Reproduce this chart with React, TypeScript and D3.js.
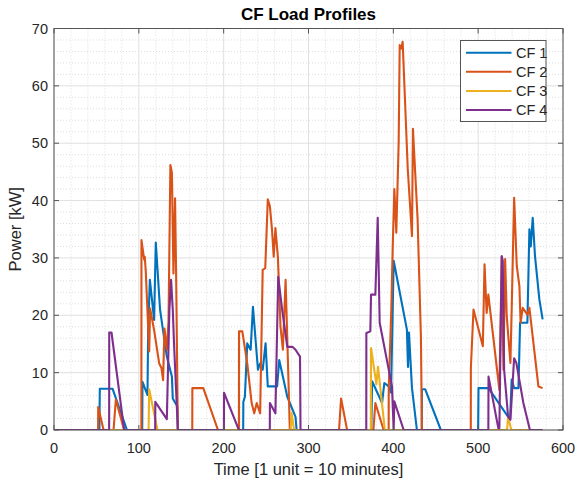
import React from "react";
import * as d3 from "d3";

// Breakpoints of each load profile: [time step, power kW]
const cf1: [number, number][] = [
  [1, 0], [53.5, 0], [54, 7.2], [69, 7.2], [86, 0],
  [104, 0], [104.3, 8.4], [110.2, 6.1], [111, 17.7], [113, 26.2], [118, 19.2], [120, 32.7],
  [125, 21], [133, 12.8], [139, 9.3], [140, 5.5], [145.5, 4.1], [146, 0],
  [223, 0], [223.2, 4.9], [225, 5.8], [227.8, 15.1], [231.8, 14], [234.5, 21.5], [240.4, 10.5],
  [243, 11.6], [246, 10.5], [249.4, 15.1], [252, 7.6], [263, 7.6], [265.5, 12.2], [275, 5.8],
  [284.7, 2.3], [286, 0],
  [374, 0], [375, 8.5], [386.7, 4.7], [389.4, 8.2], [394.5, 7.6], [397.3, 6.5], [400.4, 29.5],
  [416, 17.5], [417.3, 11], [418.4, 17], [422, 7.3], [427.8, 0],
  [433.5, 0], [433.7, 7.1], [437.6, 7.1], [456, 0],
  [500, 0], [500.4, 7.3], [512.2, 7.3], [537.6, 1.8], [539.5, 8.8], [542.4, 7.3], [547.5, 7.3],
  [549.4, 18.7], [558, 18.7], [560.4, 35], [562, 32], [564.3, 37], [567, 30.3], [572.1, 22.8],
  [576, 19.3],
];

const cf2: [number, number][] = [
  [1, 0], [52, 0], [52.1, 4], [58.4, 0], [70.2, 0], [72.9, 5.3], [82.7, 0],
  [103, 0], [103.1, 33.1], [106.3, 29.7], [107, 30.2], [108.2, 27.6], [112.2, 13.7], [113.3, 21.2],
  [118, 17.4], [124, 11.6], [126.7, 10.8], [128.6, 8.7], [130.2, 17.7], [133, 14], [135, 19],
  [137.2, 46.2], [139, 44.8], [140.8, 27.3], [142.7, 40.4], [144, 26.7], [146, 0],
  [163, 0], [163.1, 7.3], [176, 7.3], [193.3, 0],
  [218, 0], [218.1, 17.2], [222, 17.2], [227.8, 11.6], [233, 4.7], [236, 2.9], [239, 4.7],
  [243, 2.9], [246, 27.9], [249, 28.2], [252, 40.2], [254.5, 39], [257, 34.9], [259, 30.2],
  [261, 35.2], [263.9, 30.2], [267, 18], [269.8, 14], [273, 26.2], [275.7, 12.2], [278, 0],
  [336, 0], [338.4, 5.5], [345.5, 0],
  [376.5, 0], [378.8, 4.7], [388.6, 0], [394.5, 0], [394.6, 7.3], [397.6, 21], [399.2, 31.5],
  [401.2, 42], [403.5, 34.4], [406.3, 50.2], [407.5, 67.1], [409.4, 66.5], [411, 67.7],
  [417, 45.5], [422, 33.8], [423.1, 52.5], [428.6, 36.8], [432.5, 16.3], [433.7, 0],
  [491.3, 0], [491.4, 10.8], [494.5, 21], [505.5, 14.6], [507.5, 28.9], [510, 20.4], [512, 23.6],
  [525, 7], [527.8, 30.3], [529.8, 10.5], [531.8, 29.8], [533.7, 19.8], [535.7, 16], [538, 11.7],
  [539.5, 21], [542.4, 40.5], [545.5, 28.6], [548.6, 25.1], [550, 18.7], [552.5, 21.3],
  [558, 20.1], [560.4, 21.3], [571, 7.6], [576, 7.3],
];

const cf3: [number, number][] = [
  [1, 0], [111.5, 0], [112.2, 7.1], [122, 0],
  [279, 0], [280, 3], [283, 0],
  [373.5, 0], [373.7, 14.3], [380, 8], [382, 11], [390, 0],
  [534, 0], [535.3, 2.3], [539, 0], [576, 0],
];

const cf4: [number, number][] = [
  [1, 0], [65, 0], [65.1, 17], [67.8, 17], [82.7, 0],
  [119.3, 0], [119.4, 4.9], [133, 1.9], [136, 20.9], [138, 26.2], [140, 21], [141.8, 14], [146, 0],
  [200.3, 0], [200.4, 6.5], [217.9, 0],
  [254.4, 0], [254.5, 4.7], [261, 2.9], [264.3, 26.7], [269, 20.9], [275, 14.5], [281, 14.5],
  [284.7, 14], [290, 12.8], [290.6, 0],
  [368.1, 0], [368.2, 16.9], [372.9, 17.2], [373.7, 23.6], [378.8, 23.6], [381.6, 37],
  [383.9, 18.7], [398.4, 7.6], [400.4, 0], [401.2, 5], [412.2, 0],
  [512, 0], [512.2, 9.3], [523.8, 0.3], [525, 0.3], [527.8, 30.3], [529, 29.5], [530.6, 10.5],
  [535.3, 2.3], [538, 1.8], [542.4, 12.5], [545, 11.7], [553.3, 4.7], [561, 0], [576, 0],
];

const seriesNames = ["CF 1", "CF 2", "CF 3", "CF 4"];
const seriesColors = ["#0072BD", "#D95319", "#EDB120", "#7E2F8E"];
const xTicks = [0, 100, 200, 300, 400, 500, 600];
const yTicks = [0, 10, 20, 30, 40, 50, 60, 70];

const W = 577;
const H = 483;
const left = 54;
const right = 563;
const top = 28.5;
const bottom = 430;
const font = "'Liberation Sans', Arial, Helvetica, sans-serif";
const textColor = "#262626";
const axisColor = "#555";

export default function App() {
  const x = d3.scaleLinear().domain([0, 600]).range([left, right]);
  const y = d3.scaleLinear().domain([0, 70]).range([bottom, top]);
  const line = d3
    .line<[number, number]>()
    .x((d) => x(d[0]))
    .y((d) => y(d[1]));
  const all = [cf1, cf2, cf3, cf4];
  const minorX = d3.range(0, 601, 20).filter((v) => v % 100 !== 0);
  const minorY = d3.range(0, 71, 2).filter((v) => v % 10 !== 0);
  const tickLen = 5;

  return (
    <svg
      width={W}
      height={H}
      style={{ position: "absolute", left: 0, top: 0, background: "#fff" }}
      fontFamily={font}
    >
      <defs>
        <clipPath id="plotClip">
          <rect x={left} y={top} width={right - left} height={bottom - top} />
        </clipPath>
      </defs>
      <rect x={0} y={0} width={W} height={H} fill="#fff" />
      <rect x={left} y={top} width={right - left} height={bottom - top} fill="#fff" />

      {/* minor grid */}
      <g stroke="#d4d4d4" strokeWidth={0.8} strokeDasharray="1,2">
        {minorX.map((v) => (
          <line key={"mx" + v} x1={x(v)} x2={x(v)} y1={top} y2={bottom} />
        ))}
        {minorY.map((v) => (
          <line key={"my" + v} x1={left} x2={right} y1={y(v)} y2={y(v)} />
        ))}
      </g>
      {/* major grid */}
      <g stroke="#e0e0e0" strokeWidth={1}>
        {xTicks.map((v) => (
          <line key={"gx" + v} x1={x(v)} x2={x(v)} y1={top} y2={bottom} />
        ))}
        {yTicks.map((v) => (
          <line key={"gy" + v} x1={left} x2={right} y1={y(v)} y2={y(v)} />
        ))}
      </g>

      {/* series */}
      <g clipPath="url(#plotClip)" fill="none" strokeWidth={2.1} strokeLinejoin="round">
        {all.map((s, i) => (
          <path key={i} d={line(s) || ""} stroke={seriesColors[i]} />
        ))}
      </g>

      {/* axes box and ticks */}
      <rect
        x={left}
        y={top}
        width={right - left}
        height={bottom - top}
        fill="none"
        stroke={axisColor}
        strokeWidth={1}
      />
      <g stroke={axisColor} strokeWidth={1}>
        {xTicks.map((v) => (
          <g key={"tx" + v}>
            <line x1={x(v)} x2={x(v)} y1={bottom} y2={bottom - tickLen} />
            <line x1={x(v)} x2={x(v)} y1={top} y2={top + tickLen} />
          </g>
        ))}
        {yTicks.map((v) => (
          <g key={"ty" + v}>
            <line x1={left} x2={left + tickLen} y1={y(v)} y2={y(v)} />
            <line x1={right} x2={right - tickLen} y1={y(v)} y2={y(v)} />
          </g>
        ))}
      </g>

      {/* tick labels */}
      <g fill={textColor} fontSize={14.5}>
        {xTicks.map((v) => (
          <text key={"lx" + v} x={x(v)} y={bottom + 23} textAnchor="middle">
            {v}
          </text>
        ))}
        {yTicks.map((v) => (
          <text key={"ly" + v} x={left - 6} y={y(v) + 5} textAnchor="end">
            {v}
          </text>
        ))}
      </g>

      {/* axis titles */}
      <text
        x={(left + right) / 2}
        y={475}
        textAnchor="middle"
        fontSize={16.5}
        fill={textColor}
      >
        Time [1 unit = 10 minutes]
      </text>
      <text
        transform={`translate(21, ${(top + bottom) / 2}) rotate(-90)`}
        textAnchor="middle"
        fontSize={16.5}
        fill={textColor}
      >
        Power [kW]
      </text>
      <text
        x={(left + right) / 2}
        y={20}
        textAnchor="middle"
        fontSize={17}
        fontWeight="bold"
        fill="#000"
      >
        CF Load Profiles
      </text>

      {/* legend */}
      <g>
        <rect x={460.5} y={40.5} width={85.5} height={81} fill="#fff" stroke={axisColor} strokeWidth={1} />
        {seriesNames.map((name, i) => {
          const ly = 52.7 + i * 19.1;
          return (
            <g key={name}>
              <line x1={466} x2={511.5} y1={ly} y2={ly} stroke={seriesColors[i]} strokeWidth={2} />
              <text x={516} y={ly + 5} fontSize={14.5} fill={textColor}>
                {name}
              </text>
            </g>
          );
        })}
      </g>
    </svg>
  );
}
